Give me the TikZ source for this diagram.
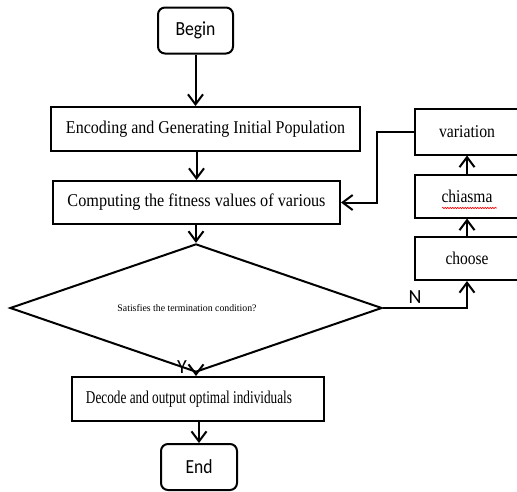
\documentclass[tikz,border=0pt]{standalone}
\usepackage{fontspec}
\usepackage{graphicx}
\setmainfont{Liberation Serif}
\newfontfamily\carlito{Carlito}
\usetikzlibrary{arrows.meta,shapes.geometric,decorations.pathmorphing}
\newcommand\fitw[2]{\resizebox{#1}{\height}{#2}}
\begin{document}
\begin{tikzpicture}[x=1pt,y=-1pt,line width=2pt,
  arr/.style={-{Straight Barb[length=10pt,width=15pt,line width=2pt]}},
  box/.style={draw,rectangle,inner sep=0pt,font=\fontsize{18}{20}\selectfont},
  term/.style={draw,rectangle,rounded corners=7pt,inner sep=0pt,font=\carlito\fontsize{20}{22}\selectfont},
  side/.style={draw,rectangle,inner sep=0pt,minimum width=104pt,font=\fontsize{18}{20}\selectfont},
  lab/.style={inner sep=0pt,font=\carlito\fontsize{20}{22}\selectfont}]
\useasboundingbox (0,0) rectangle (517,491);
\clip (0,0) rectangle (517,491);
\node[term,minimum width=75pt,minimum height=46pt] (begin) at (195.5,30.5) {\fitw{40pt}{Begin}};
\node[box,minimum width=309pt,minimum height=44pt] (enc) at (205.5,129) {\fitw{279pt}{Encoding and Generating Initial Population}};
\node[box,minimum width=287pt,minimum height=43pt] (comp) at (196.5,202.5) {\fitw{258pt}{Computing the fitness values of various}};
\node[draw,diamond,inner sep=0pt,minimum width=372pt,minimum height=88pt,font=\fontsize{10}{11}\selectfont] (dia) at (196,308) {\hspace*{-18pt}\fitw{139pt}{Satisfies the termination condition?}};
\node[box,minimum width=252pt,minimum height=44pt] (dec) at (198,399) {\hspace*{-18pt}\fitw{206pt}{Decode and output optimal individuals}};
\node[term,minimum width=76pt,minimum height=46pt] (end) at (199,467) {\fitw{27pt}{End}};
\node[side,minimum height=46pt] (var) at (467,131.5) {\fitw{56pt}{variation}};
\node[side,minimum height=43pt] (chi) at (467,196) {\fitw{51pt}{chiasma}};
\node[side,minimum height=43pt] (cho) at (467,258.5) {\fitw{43pt}{choose}};
\draw[red,line width=0.6pt,decorate,decoration={snake,amplitude=0.7pt,segment length=2.5pt}] (442,208) -- (497,208);
\node[lab] (y) at (182,367) {Y};
\node[lab] (n) at (415,297) {N};
\draw[arr] (begin.south) -- (begin.south |- enc.north);
\draw[arr] (comp.north |- enc.south) -- (comp.north);
\draw[arr] (dia.north |- comp.south) -- (dia.north);
\draw[arr] (dia.south) -- (dia.south |- dec.north);
\draw[arr] (end.north |- dec.south) -- (end.north);
\draw[arr] (var.west) -- ++(-37,0) |- (comp.east);
\draw[arr] (dia.east) -| (cho.south);
\draw[arr] (cho.north) -- (chi.south);
\draw[arr] (chi.north) -- (var.south);
\end{tikzpicture}
\end{document}
